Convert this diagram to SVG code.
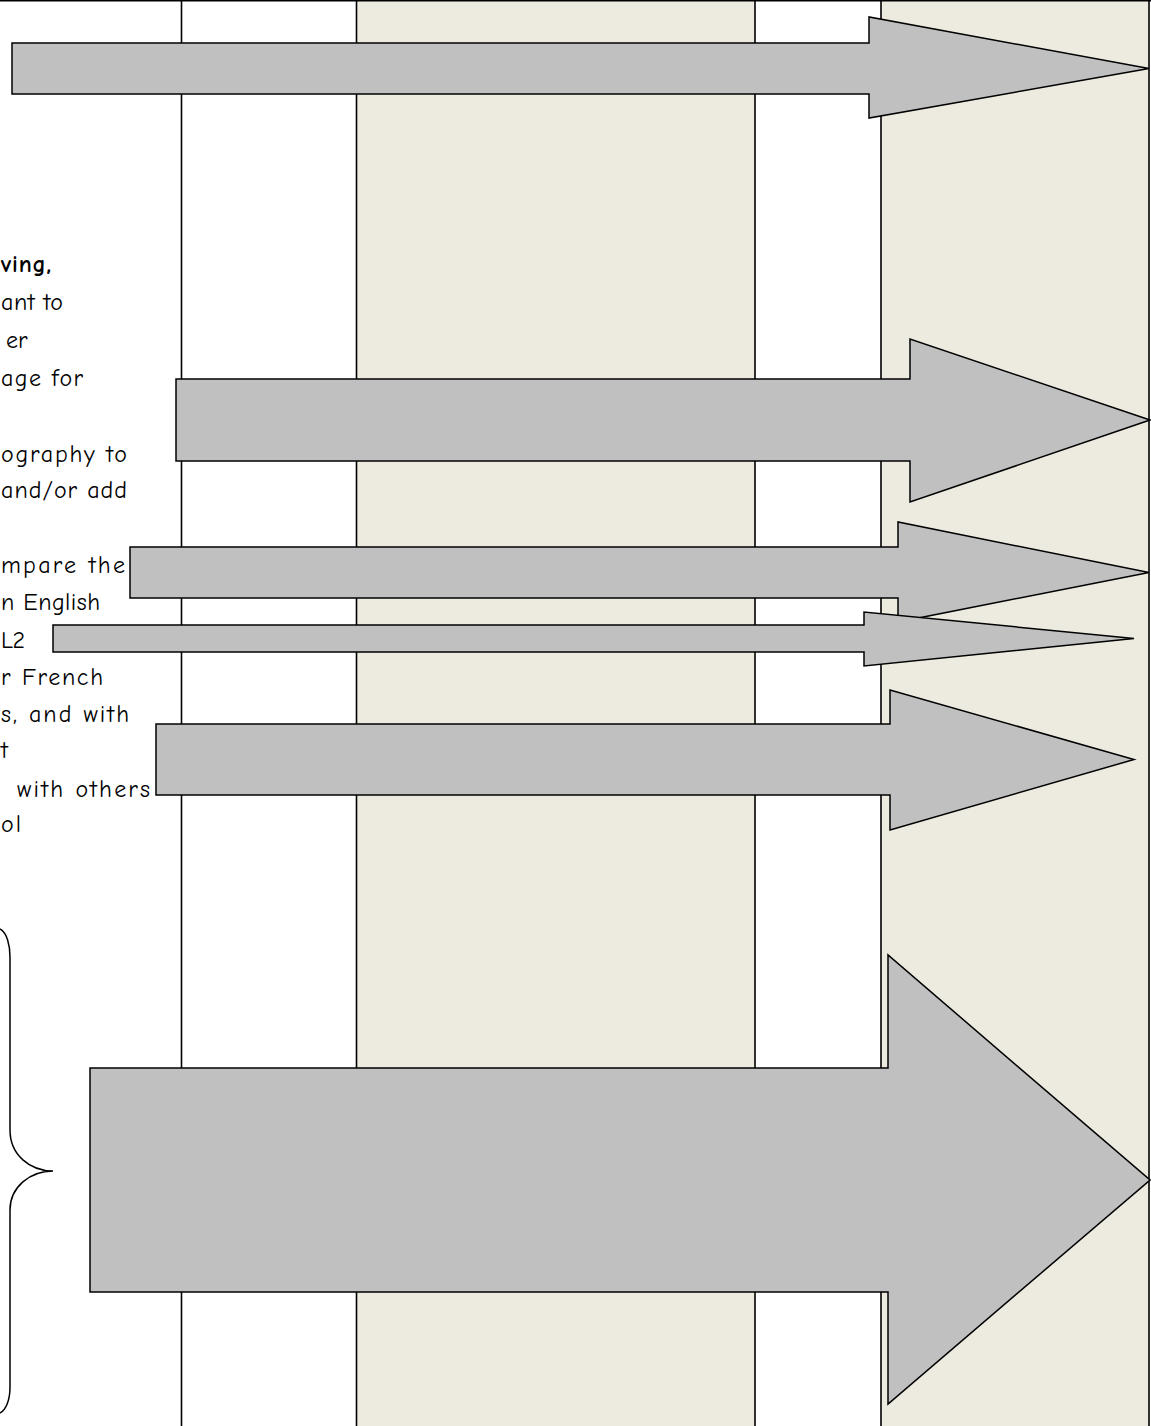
<svg xmlns="http://www.w3.org/2000/svg" width="1151" height="1426" viewBox="0 0 1151 1426">
<style>
.col{fill:#EDEBE0}
.vl{stroke:#000;stroke-width:1.6;fill:none}
.arrow{fill:#C0C0C0;stroke:#000;stroke-width:1.5;stroke-linejoin:miter}
.t{font-family:"Comic Sans MS","Comic Neue","DejaVu Sans",sans-serif;font-size:24px;fill:#000}
.b{font-weight:bold}
.brace{fill:none;stroke:#000;stroke-width:1.5}
</style>
<rect x="0" y="0" width="1151" height="1426" fill="#FFFFFF"/>
<g id="columns">
<rect class="col" x="357" y="0" width="398" height="1426"/>
<rect class="col" x="881" y="0" width="268" height="1426"/>
<line class="vl" x1="0" y1="0.8" x2="1151" y2="0.8"/>
<line class="vl" x1="181.5" y1="0" x2="181.5" y2="1426"/>
<line class="vl" x1="356.5" y1="0" x2="356.5" y2="1426"/>
<line class="vl" x1="755" y1="0" x2="755" y2="1426"/>
<line class="vl" x1="881" y1="0" x2="881" y2="1426"/>
<line class="vl" x1="1149" y1="0" x2="1149" y2="1426"/>
</g>
<g id="text">
<text class="t b" x="1" y="272" textLength="50">ving,</text>
<text class="t" x="1" y="310" textLength="62">ant to</text>
<text class="t" x="6" y="348">er</text>
<text class="t" x="1" y="386" textLength="82">age for</text>
<text class="t" x="1" y="462" textLength="126">ography to</text>
<text class="t" x="1" y="498" textLength="126">and/or add</text>
<text class="t" x="1" y="573" textLength="124">mpare the</text>
<text class="t" x="1" y="610" textLength="99">n English</text>
<text class="t" x="1" y="648" textLength="24">L2</text>
<text class="t" x="1" y="685" textLength="102">r French</text>
<text class="t" x="1" y="722" textLength="128">s, and with</text>
<text class="t" x="1" y="758">t</text>
<text class="t" x="17" y="797" textLength="133">with others</text>
<text class="t" x="1" y="832" textLength="20">ol</text>
</g>
<g id="brace">
<path class="brace" d="M 0,929 C 7,933 10,945 10,957 L 10,1130 C 10,1155 30,1171 53,1171 C 30,1171 10,1187 10,1210 L 10,1387 C 10,1400 6,1410 0,1413"/>
</g>
<g id="connectors">
<polygon id="arrow1" class="arrow" points="12,43 869,43 869,17 1149,68.5 869,118 869,94 12,94"/>
<polygon id="arrow2" class="arrow" points="176,379 910,379 910,339 1150,420 910,502 910,461 176,461"/>
<polygon id="arrow3" class="arrow" points="130,547 898,547 898,522 1149,572.5 898,622 898,598 130,598"/>
<polygon id="arrow4" class="arrow" points="53,625 864,625 864,612 1134,638.5 864,666 864,652 53,652"/>
<polygon id="arrow5" class="arrow" points="156,724 890,724 890,690 1134,759.5 890,830 890,795 156,795"/>
<polygon id="arrow6" class="arrow" points="90,1068 888,1068 888,955 1150,1180 888,1404 888,1292 90,1292"/>
</g>
</svg>
